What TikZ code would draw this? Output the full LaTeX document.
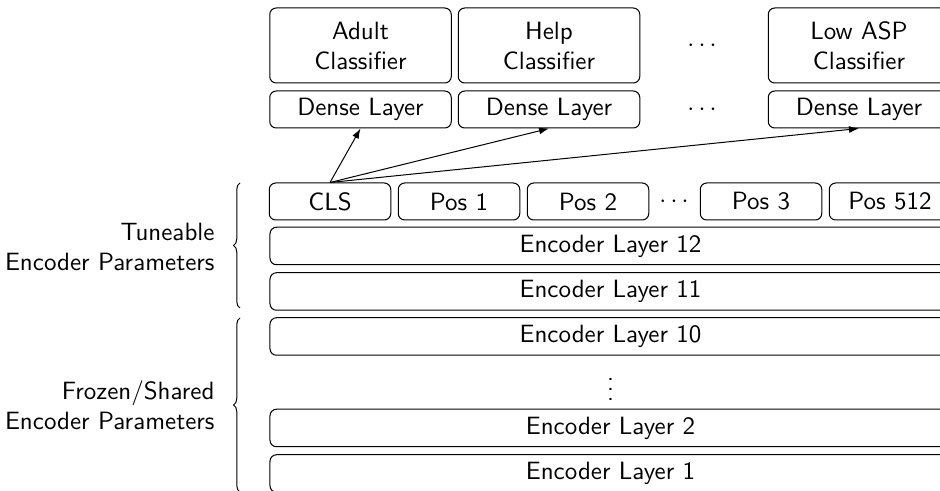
\documentclass[tikz,border=0pt]{standalone}
\usetikzlibrary{decorations.pathreplacing,arrows.meta}
\begin{document}
\begin{tikzpicture}[x=0.4pt,y=-0.4pt,
  every node/.style={font=\sffamily},
  box/.style={draw,rounded corners=2.6pt,inner sep=0pt,align=center},
  clf/.style={box,minimum width=72.6pt,minimum height=30pt},
  dense/.style={box,minimum width=72.6pt,minimum height=14.8pt},
  tok/.style={box,minimum width=48.6pt,minimum height=14.8pt},
  enc/.style={box,minimum width=272.4pt,minimum height=15pt},
  brc/.style={decorate,decoration={brace,amplitude=2.6pt}},
  lbl/.style={anchor=east,align=right,inner sep=0pt},
  arr/.style={-{Latex[length=4pt,width=2.8pt]}}]
\useasboundingbox (0,0) rectangle (940,491);
\clip (0,0) rectangle (940,491);
% classifiers
\node[clf] (c1) at (360.5,45.5) {Adult\\Classifier};
\node[clf] (c2) at (549,45.5) {Help\\Classifier};
\node (cd) at (702,45.5) {$\cdots$};
\node[clf] (c3) at (859,45.5) {Low ASP\\Classifier};
% dense layers
\node[dense] (d1) at (360.5,109.5) {Dense Layer};
\node[dense] (d2) at (549,109.5) {Dense Layer};
\node (dd) at (702,109.5) {$\cdots$};
\node[dense] (d3) at (859,109.5) {Dense Layer};
% tokens
\node[tok] (cls) at (330,201.5) {CLS};
\node[tok] (p1) at (459,201.5) {Pos 1};
\node[tok] (p2) at (588,201.5) {Pos 2};
\node (pd) at (674,201.5) {$\cdots$};
\node[tok] (p3) at (761,201.5) {Pos 3};
\node[tok] (p512) at (890,201.5) {Pos 512};
% encoder layers
\node[enc] (e12) at (610.5,246) {Encoder Layer 12};
\node[enc] (e11) at (610.5,291.5) {Encoder Layer 11};
\node[enc] (e10) at (610.5,336.5) {Encoder Layer 10};
\node (ed) at (610.5,382) {$\vdots$};
\node[enc] (e2) at (610.5,428) {Encoder Layer 2};
\node[enc] (e1) at (610.5,473.5) {Encoder Layer 1};
% arrows
\draw[arr] (cls.north) -- (d1.south);
\draw[arr] (cls.north) -- (d2.south);
\draw[arr] (cls.north) -- (d3.south);
% braces
\coordinate (b1s) at (240,308);
\coordinate (b1e) at (240,183);
\coordinate (b2s) at (240,492);
\coordinate (b2e) at (240,318);
\draw[brc] (b1s) -- (b1e);
\draw[brc] (b2s) -- (b2e);
\node[lbl] (l1) at (215,246.5) {Tuneable\\Encoder Parameters};
\node[lbl] (l2) at (215,405) {Frozen/Shared\\Encoder Parameters};
\end{tikzpicture}
\end{document}
